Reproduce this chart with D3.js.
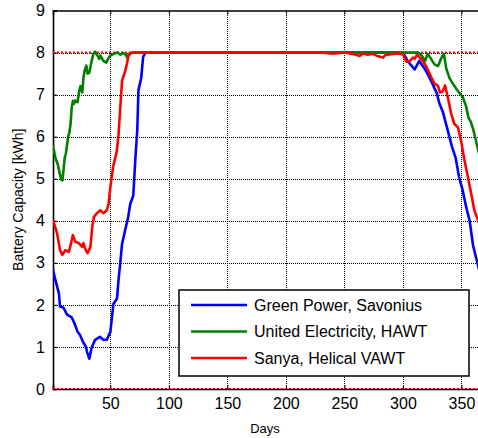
<!DOCTYPE html>
<html>
<head>
<meta charset="utf-8">
<script src="https://cdn.jsdelivr.net/npm/d3@7/dist/d3.min.js"></script>
<style>
    body { margin: 0; background: #fff; }
    svg { display: block; font-family: Arial, "Liberation Sans", sans-serif; }
</style>
</head>
<body>
<svg id="chart" width="478" height="438"></svg>
<script>
// battery capacity (kWh) over the year
var seriesNames = ["Green Power, Savonius", "United Electricity, HAWT", "Sanya, Helical VAWT"];
var seriesColors = ["#0000ff", "#008000", "#ff0000"];

var blueDays = [1, 3, 6, 7, 10, 13, 16, 17, 19, 22, 24, 27, 29, 30, 32, 34, 37, 41, 44, 47, 49, 50, 52.6, 55.7, 57, 58.5, 60, 62.8, 65, 67, 69.6, 71.3, 73, 74, 76.4, 78, 80, 150, 250, 298, 301, 304, 310, 314, 318, 321, 324, 329, 331, 334, 338, 342, 345, 348, 351, 354, 357, 360, 365];
var blueVals = [2.83, 2.6, 2.28, 1.96, 1.93, 1.77, 1.72, 1.7, 1.58, 1.36, 1.29, 1.1, 1.01, 0.89, 0.72, 0.98, 1.17, 1.24, 1.17, 1.17, 1.3, 1.35, 2.02, 2.15, 2.6, 3.0, 3.45, 3.8, 4.05, 4.4, 4.6, 5.44, 6.15, 7.1, 7.4, 7.9, 8, 8, 8, 8, 7.95, 7.8, 7.6, 7.8, 7.64, 7.5, 7.33, 7.03, 6.8, 6.6, 6.18, 5.75, 5.5, 5.04, 4.73, 4.33, 4.0, 3.4, 2.85];

var greenDays = [1, 3, 5, 7, 8, 9, 10, 11, 12, 13, 14, 15, 16, 17, 18, 19, 20, 22, 23.5, 24.5, 26, 27, 28, 29.5, 30.5, 32, 34, 35.5, 37, 39, 40.5, 41.5, 44, 46.5, 48, 50, 53, 56, 58.5, 61, 63, 64.5, 66, 70, 150, 250, 313, 316, 319, 321, 324, 327, 330, 333, 335, 337, 340, 343, 346, 348, 351, 354, 356, 358, 360, 362, 365];
var greenVals = [5.8, 5.5, 5.35, 5.1, 4.98, 4.96, 5.2, 5.5, 5.6, 5.8, 6.0, 6.1, 6.3, 6.7, 6.85, 6.78, 6.86, 6.82, 7.1, 7.2, 7.05, 7.4, 7.57, 7.69, 7.5, 7.52, 7.8, 7.97, 8.02, 7.93, 7.85, 7.93, 7.8, 7.76, 7.85, 7.93, 7.97, 8.0, 7.95, 7.99, 7.95, 7.88, 7.97, 8, 8, 8, 8, 7.93, 7.8, 7.97, 7.85, 7.72, 7.68, 7.88, 7.97, 7.62, 7.38, 7.25, 7.12, 7.05, 6.95, 6.72, 6.45, 6.35, 6.18, 5.95, 5.6];

var redDays = [1, 4.5, 7, 9, 11.5, 14.5, 16, 18, 20, 23, 26, 27, 29, 30.5, 33, 34.5, 36, 38.5, 41.5, 44, 47, 48.5, 50, 52.5, 55.5, 57, 58.5, 60, 62.8, 64.2, 65.5, 68, 150, 230, 240, 250, 260, 263, 266, 270, 274, 278, 283, 285, 290, 295, 300, 303, 306, 308.5, 310, 312, 314.5, 317, 320.5, 324.5, 327, 330, 331.6, 334, 336, 338.4, 341.2, 344, 347, 349.7, 352.6, 355.5, 358.3, 361, 365];
var redVals = [4.02, 3.7, 3.3, 3.19, 3.3, 3.26, 3.42, 3.66, 3.5, 3.47, 3.38, 3.47, 3.3, 3.23, 3.38, 3.85, 4.09, 4.18, 4.25, 4.18, 4.25, 4.4, 4.8, 5.3, 5.65, 6.05, 6.7, 7.33, 7.57, 7.74, 7.93, 8, 8, 8, 7.97, 8, 7.95, 7.92, 7.98, 7.95, 7.97, 7.92, 7.88, 7.94, 7.96, 7.98, 7.96, 7.78, 7.8, 7.88, 7.85, 7.95, 7.88, 7.8, 7.64, 7.4, 7.26, 7.21, 7.05, 7.08, 7.22, 6.93, 6.55, 6.3, 6.22, 5.9, 5.44, 5.04, 4.65, 4.25, 3.95];

var limitVals = [0, 8];
var xTicks = [50, 100, 150, 200, 250, 300, 350];
var yTicks = [0, 1, 2, 3, 4, 5, 6, 7, 8, 9];

(function () {
    var svg = d3.select("#chart");

    var left = 53, right = 479, plotTop = 10.5, plotBottom = 389;

    var x = d3.scaleLinear().domain([1, 365]).range([left, right]);
    var y = d3.scaleLinear().domain([0, 9]).range([plotBottom, plotTop]);

    // snap grid lines to pixel centres so the dots stay dark
    function px(v) { return Math.round(v) + 0.5; }

    svg.append("defs").append("clipPath")
        .attr("id", "plotClip")
        .append("rect")
        .attr("x", left)
        .attr("y", plotTop)
        .attr("width", right - left)
        .attr("height", plotBottom - plotTop);

    // dotted grid
    var grid = svg.append("g")
        .style("shape-rendering", "crispEdges");

    grid.selectAll("line.vgrid")
        .data(xTicks)
        .enter().append("line")
        .attr("class", "vgrid")
        .attr("x1", function (d) { return px(x(d)); })
        .attr("x2", function (d) { return px(x(d)); })
        .attr("y1", plotTop)
        .attr("y2", plotBottom)
        .style("stroke", "#000")
        .style("stroke-width", 1)
        .style("stroke-dasharray", "1,1");

    grid.selectAll("line.hgrid")
        .data(yTicks.slice(1, -1))
        .enter().append("line")
        .attr("class", "hgrid")
        .attr("x1", left)
        .attr("x2", right)
        .attr("y1", function (d) { return px(y(d)); })
        .attr("y2", function (d) { return px(y(d)); })
        .style("stroke", "#000")
        .style("stroke-width", 1)
        .style("stroke-dasharray", "1,1");

    // axes box
    var xBottom = d3.axisBottom(x).tickValues(xTicks).tickSize(-4).tickPadding(9);
    var xTop = d3.axisTop(x).tickValues(xTicks).tickSize(-4).tickFormat("");
    var yLeft = d3.axisLeft(y).tickValues(yTicks).tickSize(-4).tickPadding(8);

    svg.append("g")
        .attr("transform", "translate(0," + plotBottom + ")")
        .call(xBottom);

    svg.append("g")
        .attr("transform", "translate(0," + plotTop + ")")
        .call(xTop);

    svg.append("g")
        .attr("transform", "translate(" + left + ",0)")
        .call(yLeft);

    svg.selectAll(".domain")
        .style("stroke", "#000")
        .style("stroke-width", 1.6);
    svg.selectAll(".tick line")
        .style("stroke", "#000");
    svg.selectAll(".tick text")
        .style("font-size", "16px")
        .style("fill", "#000")
        .style("font-family", "Arial, 'Liberation Sans', sans-serif");

    // capacity limits
    svg.append("g")
        .attr("clip-path", "url(#plotClip)")
        .selectAll("line.limit")
        .data(limitVals)
        .enter().append("line")
        .attr("class", "limit")
        .attr("x1", left)
        .attr("x2", right)
        .attr("y1", function (d) { return y(d); })
        .attr("y2", function (d) { return y(d); })
        .style("stroke", "#ff0000")
        .style("stroke-width", 2)
        .style("stroke-dasharray", "2,2");

    var seriesData = [
        d3.zip(blueDays, blueVals),
        d3.zip(greenDays, greenVals),
        d3.zip(redDays, redVals)
    ];

    var line = d3.line()
        .x(function (d) { return x(d[0]); })
        .y(function (d) { return y(d[1]); });

    svg.append("g")
        .attr("clip-path", "url(#plotClip)")
        .selectAll("path.series")
        .data(seriesData)
        .enter().append("path")
        .attr("class", "series")
        .attr("d", line)
        .style("fill", "none")
        .style("stroke", function (d, i) { return seriesColors[i]; })
        .style("stroke-width", 2.6)
        .style("stroke-linejoin", "round");

    // legend
    var legend = svg.append("g");

    legend.append("rect")
        .attr("x", 179)
        .attr("y", 290)
        .attr("width", 290)
        .attr("height", 86)
        .style("fill", "#fff")
        .style("stroke", "#000")
        .style("stroke-width", 1.5);

    var rows = legend.selectAll("g.row")
        .data(seriesNames)
        .enter().append("g")
        .attr("class", "row")
        .attr("transform", function (d, i) { return "translate(0," + (305 + i * 26.5) + ")"; });

    rows.append("line")
        .attr("x1", 191)
        .attr("x2", 247)
        .style("stroke", function (d, i) { return seriesColors[i]; })
        .style("stroke-width", 2.6);

    rows.append("text")
        .attr("x", 254)
        .attr("dy", "0.36em")
        .style("font-size", "16px")
        .text(function (d) { return d; });

    // axis titles
    svg.append("text")
        .attr("x", 265)
        .attr("y", 433)
        .attr("text-anchor", "middle")
        .style("font-size", "13px")
        .text("Days");

    svg.append("text")
        .attr("transform", "translate(23," + ((plotTop + plotBottom) / 2) + ") rotate(-90)")
        .attr("text-anchor", "middle")
        .style("font-size", "14px")
        .text("Battery Capacity [kWh]");
})();
</script>
</body>
</html>
